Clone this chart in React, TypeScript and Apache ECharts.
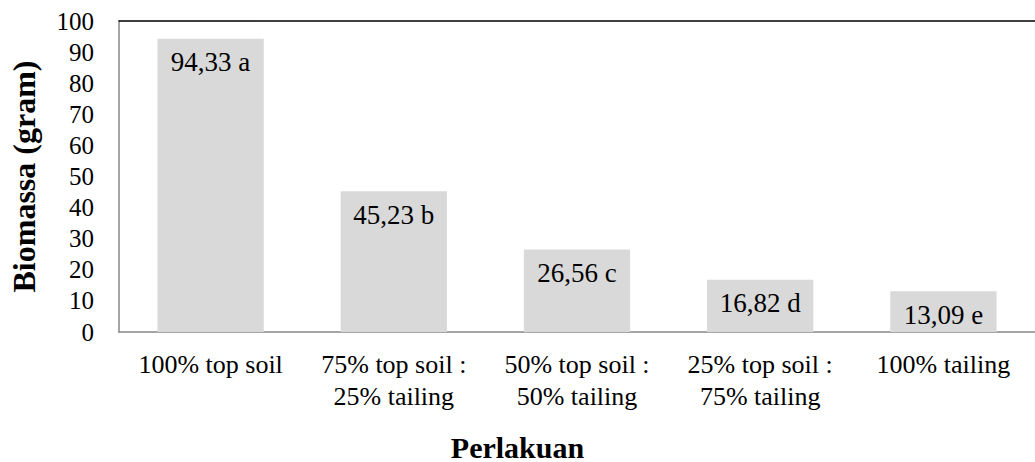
import React, { useEffect, useRef } from "react";
import * as echarts from "echarts";

const categories = [
  "100% top soil",
  "75% top soil :\n25% tailing",
  "50% top soil :\n50% tailing",
  "25% top soil :\n75% tailing",
  "100% tailing",
];
const values = [94.33, 45.23, 26.56, 16.82, 13.09];
const letters = ["a", "b", "c", "d", "e"];
const xTitle = "Perlakuan";
const yTitle = "Biomassa (gram)";

const FONT = "'Liberation Serif', 'Times New Roman', serif";

export default function App() {
  const ref = useRef<HTMLDivElement>(null);
  useEffect(() => {
    if (!ref.current) return;
    const chart = echarts.init(ref.current, undefined, { renderer: "svg" });
    chart.setOption({
      animation: false,
      textStyle: { fontFamily: FONT },
      grid: { left: 117, right: 0, top: 21, bottom: 130 },
      graphic: [
        {
          type: "text",
          left: "center",
          top: 432,
          style: {
            text: xTitle,
            fill: "#000",
            font: `bold 30px ${FONT}`,
          },
        },
      ],
      xAxis: [
        {
          type: "category",
          data: categories,
          axisLine: { lineStyle: { color: "#868686", width: 1.5 } },
          axisTick: { show: false },
          axisLabel: {
            color: "#000",
            fontSize: 26,
            fontFamily: FONT,
            lineHeight: 32,
            margin: 16,
            interval: 0,
          },
        },
        {
          type: "category",
          position: "top",
          data: categories,
          axisLine: { show: true, lineStyle: { color: "#000", width: 1.5 } },
          axisTick: { show: false },
          axisLabel: { show: false },
        },
      ],
      yAxis: {
        type: "value",
        min: 0,
        max: 100,
        interval: 10,
        splitLine: { show: false },
        axisLine: { show: true, lineStyle: { color: "#868686", width: 1.5 } },
        axisTick: { show: false },
        axisLabel: { color: "#000", fontSize: 25, fontFamily: FONT, margin: 25 },
        name: yTitle,
        nameLocation: "middle",
        nameGap: 79,
        nameTextStyle: { color: "#000", fontSize: 32, fontWeight: "bold", fontFamily: FONT },
      },
      series: [
        {
          type: "bar",
          data: values,
          barWidth: "58%",
          itemStyle: { color: "#d9d9d9" },
          label: {
            show: true,
            position: "insideTop",
            distance: 10,
            color: "#000",
            fontSize: 27,
            fontFamily: FONT,
            formatter: (p: any) =>
              values[p.dataIndex].toFixed(2).replace(".", ",") + " " + letters[p.dataIndex],
          },
        },
      ],
    });
    return () => chart.dispose();
  }, []);
  return <div ref={ref} style={{ width: 1035, height: 462, position: "absolute", left: 0, top: 0 }} />;
}
